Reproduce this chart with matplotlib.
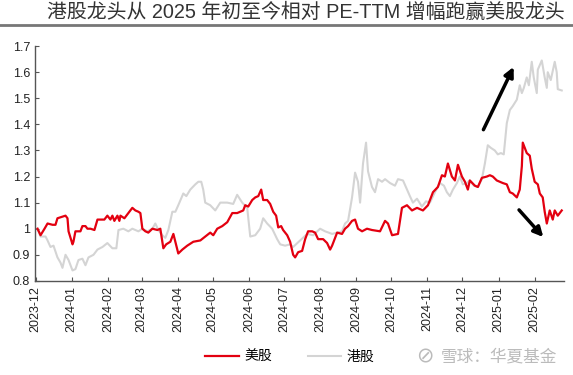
import pandas as pd
import matplotlib.pyplot as plt
import matplotlib.dates as mdates
from matplotlib.ticker import FuncFormatter

plt.rcParams['font.family'] = ['Liberation Sans', 'Noto Sans CJK SC', 'DejaVu Sans']

start = pd.Timestamp('2023-12-01')

# 美股龙头 相对PE-TTM (天数偏移, 数值)
us_day = [1.7, 4.3, 7.7, 10.3, 14.6, 17.1, 18.8, 22.3, 25.7, 27.4, 28.3, 30, 31.7, 32.5, 34.2,
          38.5, 40.2, 42.8, 44.5, 47.1, 50.5, 53.1, 59, 61.6, 64.2, 65.9, 67.6, 70.2, 71.9,
          72.8, 76.2, 79.6, 83, 85.6, 88.2, 89.9, 91.6, 94.2, 96.7, 100.2, 104.5, 107,
          109.6, 112, 115.6, 118.2, 119.9, 122.4, 125.9, 130.1, 135.3, 141.3, 145.5, 149.8,
          152.4, 155.8, 160.1, 164.4, 168.7, 172.9, 175.5, 178.1, 179.8, 182.4, 185.8,
          188.4, 191, 193.5, 195.2, 198.6, 201.2, 203.8, 206.3, 208.1, 210.6, 212.3,
          215.8, 218.3, 220.9, 222.6, 225.2, 228.6, 231.2, 233.7, 237.2, 239.7, 242.3,
          246.6, 250, 252.6, 254.3, 258.6, 262.8, 265.4, 268, 271.4, 274, 276.5, 280,
          284.2, 288.5, 295.4, 299.7, 302.2, 305.7, 310.8, 314.2, 318.5, 322.8, 327.1,
          332.2, 336.5, 340.8, 345, 348.5, 351, 353.6, 357, 359.6, 362.2, 365.6, 368.2,
          370.7, 372.4, 376.7, 379.3, 382.7, 387, 389.6, 392.1, 395.5, 398.1, 400.7,
          404.1, 406.7, 409.2, 412.7, 415.2, 417, 417.8, 421.2, 423.8, 425.5, 428,
          430.7, 432.4, 434.9, 436.6, 438.4, 440.9, 443.5, 445.2, 447.8, 451.2]
us_val = [1.0, 0.975, 1.0, 1.02, 1.015, 1.015, 1.04, 1.045, 1.05, 1.04, 0.99, 0.965, 0.94, 0.95, 0.99,
          0.99, 1.01, 1.01, 1.0, 1.0, 0.995, 1.035, 1.035, 1.05, 1.035, 1.05, 1.03, 1.05, 1.03,
          1.05, 1.04, 1.06, 1.08, 1.07, 1.065, 1.06, 1.0, 0.99, 0.985, 1.0, 0.995, 1.0,
          0.925, 0.94, 0.95, 0.98, 0.95, 0.905, 0.92, 0.935, 0.95, 0.955, 0.97, 0.985,
          0.975, 1.0, 1.01, 1.025, 1.06, 1.06, 1.065, 1.07, 1.09, 1.085, 1.11,
          1.12, 1.125, 1.15, 1.11, 1.11, 1.095, 1.065, 1.05, 1.005, 1.01, 0.995,
          0.975, 0.95, 0.9, 0.89, 0.91, 0.915, 0.96, 0.99, 0.99, 0.985, 0.96,
          0.96, 0.945, 0.92, 0.935, 0.985, 0.98, 1.0, 1.01, 1.03, 1.035, 1.0, 0.99,
          1.0, 0.995, 0.99, 1.03, 1.02, 0.975, 0.98, 1.08, 1.09, 1.07, 1.08,
          1.07, 1.09, 1.14, 1.16, 1.205, 1.2, 1.25, 1.2, 1.185, 1.245, 1.2, 1.18,
          1.15, 1.185, 1.165, 1.16, 1.195, 1.2, 1.205, 1.2, 1.185, 1.18, 1.175,
          1.17, 1.14, 1.135, 1.12, 1.15, 1.24, 1.33, 1.29, 1.28, 1.23, 1.18,
          1.17, 1.135, 1.12, 1.065, 1.02, 1.07, 1.035, 1.07, 1.05, 1.07]

# 港股龙头 相对PE-TTM
hk_day = [1.7, 4.3, 8.6, 10.3, 12.8, 15.4, 18.8, 21.4, 23.1, 25.7, 28.3, 31.7, 34.2, 36.8,
          40.2, 42.8, 45.4, 49.7, 53.1, 57.4, 61.6, 65.9, 69.3, 71.1, 75.3, 79.6, 83,
          85.6, 88.2, 91.6, 95.9, 100.2, 102.7, 105.3, 108.7, 111.3, 113.9, 117.3, 119.9,
          122.4, 126.7, 129.3, 132.7, 137, 139.6, 142.1, 143.8, 145.5, 149.8, 154.1,
          158.4, 164.4, 169.5, 172.9, 177.2, 181.5, 184.1, 188.4, 192.6, 195.2, 198.6,
          202.9, 207.2, 209.8, 214, 218.3, 220.9, 226.9, 232.9, 238, 244, 248.3, 254.3,
          258.6, 262.8, 265.4, 268, 271.4, 274, 276.5, 278.3, 280.8, 283.4, 285.1, 288.5,
          291.1, 293.7, 297.1, 299.7, 304, 308.2, 310.8, 315.1, 318.5, 321, 323.6, 327.1,
          331.3, 334.8, 338.2, 342.5, 346.7, 350.2, 352.7, 355.3, 357.9, 361.3, 363.9,
          366.4, 369.9, 372.4, 375.9, 379.3, 382.7, 385.3, 387.8, 390.4, 393.8, 396.4,
          399, 401.5, 404.1, 406.7, 409.2, 412.7, 415.2, 417, 418.7, 421.2, 423, 425.5,
          427.2, 429.8, 430.7, 434.1, 436.6, 438.4, 439.2, 441.8, 445.2, 446.9, 447.8, 451.2]
hk_val = [1.0, 0.97, 0.97, 0.955, 0.93, 0.935, 0.89, 0.87, 0.85, 0.9, 0.88, 0.84, 0.845, 0.88,
          0.885, 0.86, 0.89, 0.9, 0.92, 0.93, 0.945, 0.925, 0.925, 0.995, 1.0, 0.99, 1.0,
          0.995, 0.99, 1.0, 0.99, 1.0, 1.02, 0.995, 0.975, 0.965, 0.995, 1.065, 1.065,
          1.09, 1.135, 1.125, 1.15, 1.17, 1.18, 1.18, 1.15, 1.1, 1.09, 1.07,
          1.1, 1.1, 1.095, 1.13, 1.1, 1.08, 0.97, 0.975, 1.0, 1.04, 1.02,
          1.0, 0.96, 0.94, 0.935, 0.94, 0.93, 0.955, 0.98, 0.975, 1.0, 0.99, 0.98,
          0.985, 0.99, 1.02, 1.03, 1.12, 1.215, 1.18, 1.1, 1.25, 1.33, 1.22, 1.16,
          1.14, 1.19, 1.18, 1.19, 1.175, 1.165, 1.19, 1.185, 1.15, 1.125, 1.1, 1.115,
          1.085, 1.105, 1.1, 1.14, 1.175, 1.165, 1.14, 1.125, 1.15, 1.175, 1.2,
          1.17, 1.175, 1.185, 1.165, 1.16, 1.19, 1.25, 1.32, 1.31, 1.3, 1.285,
          1.29, 1.285, 1.405, 1.455, 1.47, 1.495, 1.55, 1.52, 1.54, 1.58, 1.55, 1.64,
          1.58, 1.52, 1.61, 1.645, 1.58, 1.54, 1.6, 1.57, 1.64, 1.6, 1.535, 1.53]

us_dates = start + pd.to_timedelta(us_day, unit='D')
hk_dates = start + pd.to_timedelta(hk_day, unit='D')

fig = plt.figure(figsize=(5.73, 3.75), dpi=100)
ax = fig.add_axes([0.061, 0.251, 0.923, 0.626])

ax.plot(hk_dates, hk_val, color='#d4d4d4', linewidth=1.5, label='港股')
ax.plot(us_dates, us_val, color='#e30010', linewidth=1.6, label='美股')

ax.set_ylim(0.8, 1.7)
ax.set_yticks([0.8, 0.9, 1.0, 1.1, 1.2, 1.3, 1.4, 1.5, 1.6, 1.7])
ax.yaxis.set_major_formatter(FuncFormatter(lambda v, p: f'{v:g}'))
ax.set_xlim(start - pd.Timedelta(days=0.5), pd.Timestamp('2025-02-26'))
ax.xaxis.set_major_locator(mdates.MonthLocator())
ax.xaxis.set_major_formatter(mdates.DateFormatter('%Y-%m'))
plt.setp(ax.get_xticklabels(), rotation=90)

for s in ['top', 'right']:
    ax.spines[s].set_visible(False)
for s in ['left', 'bottom']:
    ax.spines[s].set_color('#555555')
    ax.spines[s].set_linewidth(1.0)
ax.tick_params(axis='both', direction='in', length=3, color='#555555',
               labelsize=9, labelcolor='#222222')

# 箭头
ax.annotate('', xy=(pd.Timestamp('2025-01-15'), 1.63), xytext=(pd.Timestamp('2024-12-18'), 1.37),
            arrowprops=dict(arrowstyle='-|>', color='black', lw=2.5, mutation_scale=14))
ax.annotate('', xy=(pd.Timestamp('2025-02-10'), 0.96), xytext=(pd.Timestamp('2025-01-17'), 1.08),
            arrowprops=dict(arrowstyle='-|>', color='black', lw=2.5, mutation_scale=14))

# 标题
fig.text(0.082, 0.967, '港股龙头从 2025 年初至今相对 PE-TTM 增幅跑赢美股龙头',
         fontsize=14.3, color='#333333', ha='left', va='center')
fig.add_artist(plt.Line2D([0, 1], [0.933, 0.933], color='#777777', linewidth=2,
                          transform=fig.transFigure))

handles, labels = ax.get_legend_handles_labels()
fig.legend(handles[::-1], labels[::-1], loc='center', bbox_to_anchor=(0.506, 0.048), ncol=2,
           frameon=False, fontsize=10, handlelength=2.4, handletextpad=0.4, columnspacing=2.6)

# 水印
fig.text(0.726, 0.05, '⊘', fontsize=15, color='#bbbbbb', ha='left', va='center',
         family='DejaVu Sans')
fig.text(0.972, 0.05, '雪球：华夏基金', fontsize=12, color='#bbbbbb', ha='right', va='center')

plt.savefig('out.png', dpi=100)
